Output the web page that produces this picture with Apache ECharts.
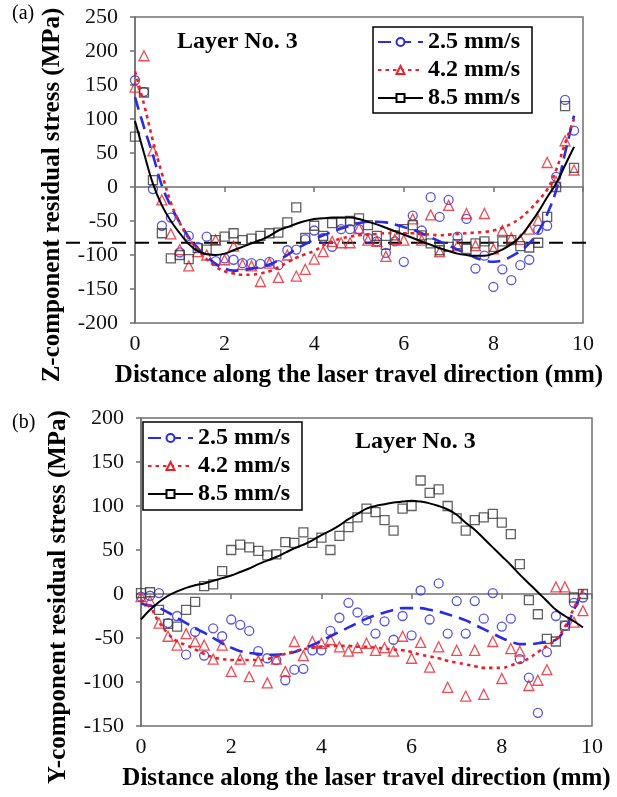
<!DOCTYPE html>
<html>
<head>
<meta charset="utf-8">
<script src="https://cdn.jsdelivr.net/npm/echarts@6/dist/echarts.min.js"></script>
<style>
html,body{margin:0;padding:0;background:#fff;}
#chart{width:617px;height:797px;}
</style>
</head>
<body>
<div id="chart"></div>
<script>
// ---------- data ----------
const distance = [0,0.2,0.4,0.6,0.8,1,1.2,1.4,1.6,1.8,2,2.2,2.4,2.6,2.8,3,3.2,3.4,3.6,3.8,4,4.2,4.4,4.6,4.8,5,5.2,5.4,5.6,5.8,6,6.2,6.4,6.6,6.8,7,7.2,7.4,7.6,7.8,8,8.2,8.4,8.6,8.8,9,9.2,9.4,9.6,9.8];
const speedNames = ['2.5 mm/s', '4.2 mm/s', '8.5 mm/s'];

// (a) Z-component, measured
const zMeas25 = [157,140,-3,-57,-45,-96,-72,-88,-73,-109,-105,-107,-112,-112,-113,-110,-115,-93,-92,-77,-64,-75,-88,-62,-62,-62,-75,-80,-97,-80,-110,-42,-64,-15,-44,-19,-73,-47,-120,-101,-147,-121,-137,-115,-107,-63,-57,15,128,83];
const zMeas42 = [147,193,53,-19,-69,-92,-116,-95,-100,-78,-107,-87,-114,-116,-139,-112,-133,-100,-131,-121,-106,-95,-80,-82,-82,-61,-78,-80,-102,-77,-78,-47,-78,-41,-95,-27,-86,-39,-86,-39,-91,-64,-75,-77,-62,-49,36,8,68,25];
const zMeas85 = [74,139,10,-68,-105,-100,-106,-90,-92,-78,-73,-68,-78,-76,-72,-68,-67,-52,-30,-75,-57,-72,-53,-52,-50,-46,-56,-72,-85,-71,-62,-56,-71,-83,-93,-88,-84,-91,-83,-80,-88,-80,-78,-87,-89,-82,-44,0,119,28];
// (a) Z-component, fitted trend curves
const zFit25 = [132,88,47,2,-28,-52,-74,-90,-102,-113,-120,-123,-122,-120,-118,-114,-108,-100,-91,-84,-77,-71,-66,-61,-57,-53,-51,-51,-52,-55,-59,-63,-68,-74,-80,-86,-92,-98,-104,-108,-110,-108,-102,-94,-83,-66,-40,-5,50,105];
const zFit42 = [170,122,68,20,-23,-53,-76,-92,-106,-117,-124,-127,-129,-129,-127,-124,-118,-111,-104,-99,-94,-86,-80,-76,-73,-71,-70,-69,-68,-68,-68,-68,-69,-70,-71,-70,-69,-68,-67,-66,-64,-60,-54,-46,-34,-20,-4,25,64,100];
const zFit85 = [97,50,5,-27,-50,-68,-84,-94,-99,-100,-98,-93,-88,-83,-78,-72,-64,-59,-54,-50,-47,-46,-45,-45,-45,-47,-51,-55,-60,-65,-70,-75,-80,-85,-90,-94,-98,-100,-101,-101,-98,-92,-84,-73,-56,-37,-15,5,32,59];
const refLevel = -82;
const refSpan = [0, 1];

// (b) Y-component, measured
const yMeas25 = [-3,-2,1,-33,-25,-69,-43,-70,-39,-48,-29,-35,-42,-65,-73,-75,-98,-86,-85,-64,-64,-42,-27,-10,-21,-30,-45,-31,-52,-25,-47,4,-29,12,-45,-8,-45,-8,-28,1,-37,-28,-74,-95,-135,-66,-25,-36,-10,-4];
const yMeas42 = [-3,-8,-33,-48,-58,-45,-54,-58,-74,-58,-88,-74,-94,-76,-101,-74,-88,-54,-70,-54,-56,-52,-60,-65,-61,-56,-64,-61,-65,-48,-73,-55,-83,-60,-106,-64,-116,-64,-114,-54,-96,-62,-65,-104,-98,-86,8,8,-32,-19];
const yMeas85 = [1,2,-18,-34,-37,-18,-9,9,11,26,50,56,53,49,44,45,59,58,70,58,64,50,66,76,87,97,93,84,72,97,100,129,115,119,100,86,72,84,87,91,81,68,34,-7,-23,-51,-54,-36,-4,0];
// (b) Y-component, fitted trend curves
const yFit25 = [-11,-13,-16,-21,-27,-33,-39,-44,-50,-56,-61,-65,-67,-68,-69,-69,-68,-66,-62,-58,-53,-48,-43,-38,-33,-28,-24,-21,-18,-16,-16,-16,-18,-20,-23,-26,-30,-35,-40,-45,-50,-54,-57,-57,-56,-54,-52,-40,-18,5];
const yFit42 = [-7,-15,-32,-45,-54,-58,-63,-68,-72,-74,-75,-75,-75,-75,-74,-71,-68,-65,-63,-61,-60,-59,-59,-59,-60,-60,-61,-62,-63,-64,-66,-69,-71,-73,-76,-78,-80,-82,-84,-84,-84,-81,-78,-73,-66,-59,-52,-37,-16,5];
const yFit85 = [-29,-18,-9,-2,3,7,10,12,15,18,21,25,29,34,38,42,47,52,56,61,67,72,78,85,91,97,100,102,104,105,106,105,103,100,96,90,81,73,63,53,43,33,22,12,2,-8,-18,-25,-31,-38];

const xTicks = [0, 10, 2];          // min, max, interval
const zTicks = [-200, 250, 50];
const yTicks = [-150, 200, 50];

// ---------- styles ----------
const SERIF = 'Liberation Serif';
const BLUE = '#2b2be0';
const RED = '#e8202a';
const BLACK = '#000';
const SQ = '#3a3a3a';
const AXC = '#707070';

function pairs(xs, ys) { return xs.map((x, i) => [x, ys[i]]); }

const styles = [
  { color: BLUE, symbol: 'circle', legendSymbol: 'emptyCircle', size: 9, line: { type: [13, 7], width: 2.6 } },
  { color: RED, symbol: 'triangle', legendSymbol: 'emptyTriangle', size: 10, line: { type: [3.5, 4], width: 2.6 } },
  { color: BLACK, symbol: 'rect', legendSymbol: 'emptyRect', size: 9, line: { type: 'solid', width: 2 } }
];

function buildSeries(grid, meas, fits) {
  const out = [];
  fits.forEach((f, i) => {
    const s = styles[i];
    out.push({
      name: speedNames[i], type: 'line', xAxisIndex: grid, yAxisIndex: grid,
      data: pairs(distance, f), smooth: 0.4, showSymbol: false,
      symbol: s.legendSymbol, symbolSize: 8,
      itemStyle: { color: s.color },
      lineStyle: { color: s.color, width: s.line.width, type: s.line.type },
      z: 4, silent: true
    });
  });
  meas.forEach((m, i) => {
    const s = styles[i];
    out.push({
      name: speedNames[i], type: 'scatter', xAxisIndex: grid, yAxisIndex: grid,
      data: pairs(distance, m), symbol: s.symbol, symbolSize: s.size,
      itemStyle: { color: 'rgba(0,0,0,0)', borderColor: i === 2 ? SQ : s.color, borderWidth: 1.3 },
      z: 3, silent: true
    });
  });
  return out;
}

const axisLabel = { fontFamily: SERIF, fontSize: 22, color: '#111' };
const axisName = { fontFamily: SERIF, fontSize: 25, fontWeight: 'bold', color: '#000' };

function xAxis(grid) {
  return {
    type: 'value', gridIndex: grid, min: xTicks[0], max: xTicks[1], interval: xTicks[2],
    name: 'Distance along the laser travel direction (mm)', nameLocation: 'middle', nameGap: 40,
    nameTextStyle: axisName,
    axisLine: { lineStyle: { color: AXC, width: 1.5 } },
    axisTick: { inside: false, length: 5, lineStyle: { color: AXC, width: 1.5 } },
    axisLabel: Object.assign({ margin: 10 }, axisLabel),
    splitLine: { show: false }
  };
}
function yAxis(grid, ticks, title, shift) {
  return {
    type: 'value', gridIndex: grid, min: ticks[0], max: ticks[1], interval: ticks[2],
    name: title, nameLocation: 'middle', nameGap: 70, nameRotate: 90,
    nameTextStyle: Object.assign({ padding: [0, shift, 0, 0] }, axisName),
    axisLine: { lineStyle: { color: AXC, width: 1.5 } },
    axisTick: { inside: false, length: 5, lineStyle: { color: AXC, width: 1.5 } },
    axisLabel: Object.assign({ margin: 17 }, axisLabel),
    splitLine: { show: false }
  };
}

const legendBase = {
  orient: 'vertical', itemWidth: 45, itemHeight: 10, itemGap: 0,
  borderColor: '#000', borderWidth: 1.5, selectedMode: false,
  textStyle: { fontFamily: SERIF, fontSize: 24, fontWeight: 'bold', color: '#000', lineHeight: 28 },
  data: speedNames
};

const titleStyle = { fontFamily: SERIF, fontSize: 24, fontWeight: 'bold', color: '#000' };
const tagStyle = { fontFamily: SERIF, fontSize: 20, fontWeight: 'normal', color: '#000' };

const option = {
  animation: false,
  backgroundColor: '#fff',
  title: [
    { text: '(a)', left: 12, top: 4, textStyle: tagStyle, padding: 0 },
    { text: '(b)', left: 12, top: 413, textStyle: tagStyle, padding: 0 },
    { text: 'Layer No. 3', left: 177, top: 30, textStyle: titleStyle, padding: 0 },
    { text: 'Layer No. 3', left: 355, top: 430, textStyle: titleStyle, padding: 0 }
  ],
  legend: [
    Object.assign({ left: 373, top: 27, padding: [1, 12, 1, 4] }, legendBase),
    Object.assign({ left: 143, top: 422, padding: [2, 12, 2, 4] }, legendBase)
  ],
  grid: [
    { left: 135, top: 17, width: 448, height: 306, show: true, borderColor: AXC, borderWidth: 1.5, backgroundColor: 'transparent' },
    { left: 141, top: 418, width: 451, height: 308, show: true, borderColor: AXC, borderWidth: 1.5, backgroundColor: 'transparent' },
    { left: 43, top: 17, width: 544, height: 306, show: false }
  ],
  xAxis: [
    xAxis(0), xAxis(1),
    { type: 'value', gridIndex: 2, min: refSpan[0], max: refSpan[1], show: false }
  ],
  yAxis: [
    yAxis(0, zTicks, 'Z-component residual stress (MPa)', 50),
    yAxis(1, yTicks, 'Y-component residual stress (MPa)', 50),
    { type: 'value', gridIndex: 2, min: zTicks[0], max: zTicks[1], show: false }
  ],
  series: [
    ...buildSeries(0, [zMeas25, zMeas42, zMeas85], [zFit25, zFit42, zFit85]),
    ...buildSeries(1, [yMeas25, yMeas42, yMeas85], [yFit25, yFit42, yFit85]),
    {
      name: 'reference', type: 'line', xAxisIndex: 2, yAxisIndex: 2,
      data: refSpan.map(x => [x, refLevel]), showSymbol: false, silent: true,
      lineStyle: { color: '#000', width: 2, type: [14, 9] }, z: 2
    }
  ]
};

const chart = echarts.init(document.getElementById('chart'), null, { renderer: 'canvas' });
chart.setOption(option);
</script>
</body>
</html>
